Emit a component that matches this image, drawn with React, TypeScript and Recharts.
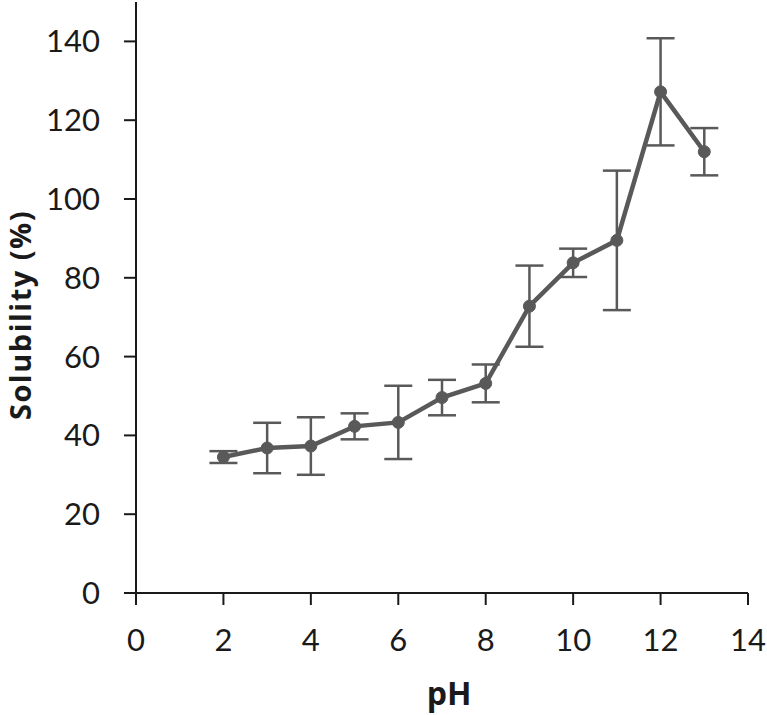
import React from 'react';
import { LineChart, Line, XAxis, YAxis, ErrorBar } from 'recharts';

const PH = [2, 3, 4, 5, 6, 7, 8, 9, 10, 11, 12, 13];
const SOLUBILITY = [34.5, 36.8, 37.3, 42.3, 43.3, 49.6, 53.2, 72.8, 83.8, 89.5, 127.2, 112.0];
const SD = [1.5, 6.4, 7.3, 3.3, 9.3, 4.5, 4.8, 10.3, 3.6, 17.7, 13.6, 6.0];
const X_TICKS = [0, 2, 4, 6, 8, 10, 12, 14];
const Y_TICKS = [0, 20, 40, 60, 80, 100, 120, 140];

const LINE_COLOR = '#595959';
const AXIS_COLOR = '#1a1a1a';
const FONT = 'Lato, "Open Sans", sans-serif';
const LABEL_FONT = '"Open Sans", Lato, sans-serif';

const data = PH.map((ph, i) => ({ ph, value: SOLUBILITY[i], err: SD[i] }));

const tickStyle = { fill: '#1a1a1a', fontSize: 31, fontFamily: FONT };

export default function App() {
  return (
    <div style={{ position: 'absolute', left: 0, top: 0, background: '#fff' }}>
      <LineChart width={767} height={715} data={data} margin={{ top: 2, right: 19, left: 0, bottom: 0 }}>
        <XAxis
          dataKey="ph"
          type="number"
          domain={[0, 14]}
          ticks={X_TICKS}
          height={122}
          tick={tickStyle}
          tickSize={12}
          tickMargin={24}
          stroke={AXIS_COLOR}
          strokeWidth={2}
          label={{
            content: () => (
              <text x={449} y={705} textAnchor="middle" fontFamily={LABEL_FONT} fontWeight="bold" fontSize={32} fill="#1a1a1a">
                pH
              </text>
            ),
          }}
        />
        <YAxis
          type="number"
          domain={[0, 150]}
          ticks={Y_TICKS}
          width={136}
          tick={tickStyle}
          tickSize={12}
          tickMargin={24}
          stroke={AXIS_COLOR}
          strokeWidth={2}
          label={{
            content: () => (
              <text
                x={19}
                y={315}
                transform="rotate(-90 19 315)"
                textAnchor="middle"
                dominantBaseline="central"
                fontFamily={LABEL_FONT}
                fontWeight="bold"
                fontSize={29}
                letterSpacing={1.5}
                fill="#1a1a1a"
              >
                Solubility (%)
              </text>
            ),
          }}
        />
        <Line
          dataKey="value"
          stroke={LINE_COLOR}
          strokeWidth={4.5}
          dot={{ r: 6, fill: LINE_COLOR, stroke: LINE_COLOR, strokeWidth: 1 }}
          isAnimationActive={false}
        >
          <ErrorBar dataKey="err" direction="y" width={14} stroke={LINE_COLOR} strokeWidth={2.5} />
        </Line>
      </LineChart>
    </div>
  );
}
